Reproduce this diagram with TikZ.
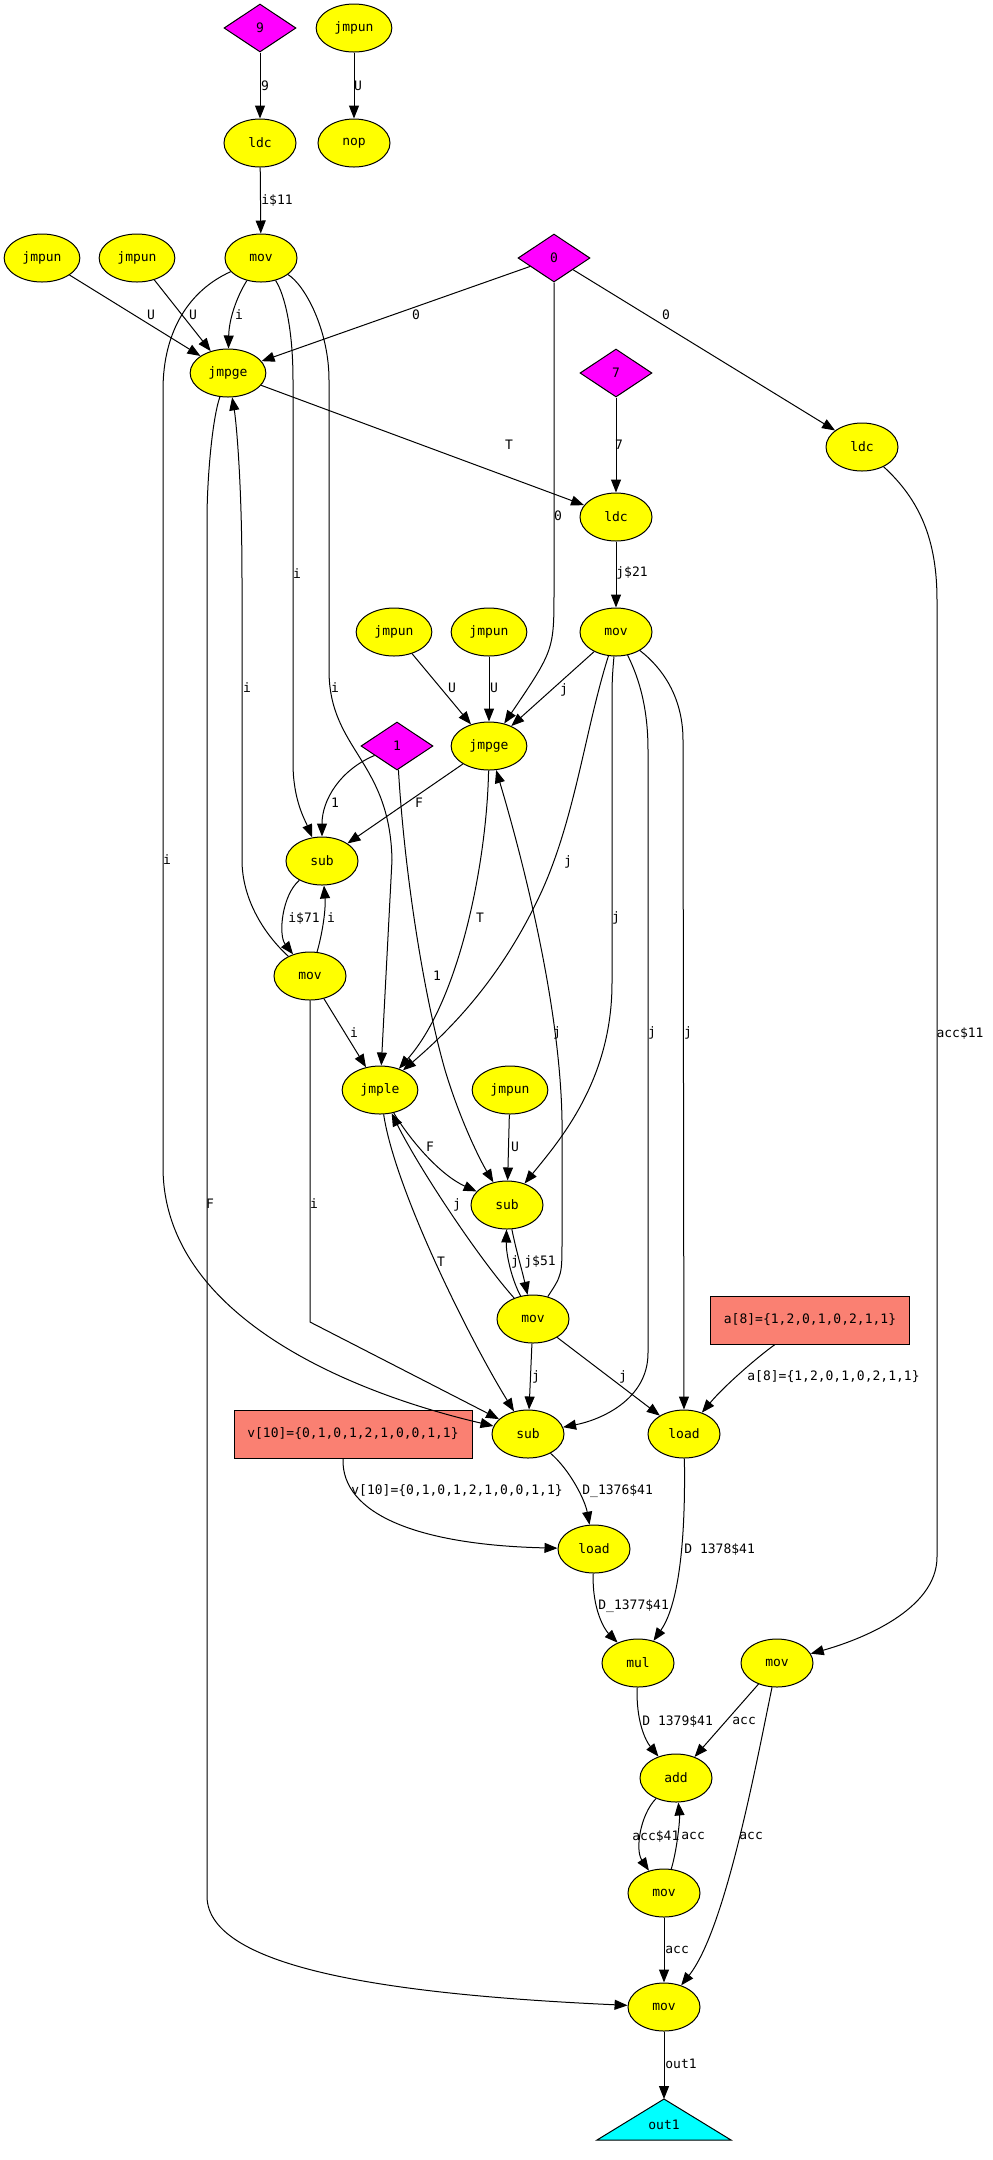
\documentclass[tikz,border=0pt]{standalone}
\usepackage{fontspec}
\setmonofont{DejaVu Sans Mono}
\usepackage{tikz}
\usetikzlibrary{shapes.geometric, arrows.meta}
\usepackage{xcolor}
\definecolor{opYellow}{HTML}{FFFF00}
\definecolor{cstMagenta}{HTML}{FF00FF}
\definecolor{arrSalmon}{HTML}{FA8072}
\definecolor{outCyan}{HTML}{00FFFF}

\begin{document}
\begin{tikzpicture}[x=0.5pt, y=-0.5pt,
    txt/.style={font=\ttfamily\fontsize{6.5}{7}\selectfont},
    op/.style={txt, ellipse, draw, line width=0.5pt, fill=opYellow, minimum width=36pt, minimum height=24pt, inner xsep=3.6pt},
    cst/.style={txt, diamond, draw, line width=0.5pt, fill=cstMagenta, aspect=1.5, inner sep=0pt, minimum width=36pt, minimum height=24pt},
    arr/.style={txt, rectangle, draw, line width=0.5pt, fill=arrSalmon, minimum height=24pt},
    lbl/.style={txt, inner sep=0pt},
    flow/.style={draw, line width=0.5pt, -{Triangle[length=6.5pt, width=5pt]}}
]
    \useasboundingbox (0,0) rectangle (992,2160);

    % Nodes
    \node[cst] (c9) at (260,28) {9};
    \node[op] (jpA) at (354,28) {jmpun};
    \node[op] (ldc9) at (260,143) {ldc};
    \node[op] (nop) at (354,143) {nop};
    \node[op] (jpB) at (42,258) {jmpun};
    \node[op] (jpC) at (137,258) {jmpun};
    \node[op] (movI) at (261,258) {mov};
    \node[cst] (c0) at (554,258) {0};
    \node[op] (jgeI) at (228,373) {jmpge};
    \node[cst] (c7) at (616,373) {7};
    \node[op] (ldc0) at (862,447) {ldc};
    \node[op] (ldc7) at (616,517) {ldc};
    \node[op] (jpD) at (394,632) {jmpun};
    \node[op] (jpE) at (489,632) {jmpun};
    \node[op] (movJ) at (616,632) {mov};
    \node[cst] (c1) at (397,746) {1};
    \node[op] (jgeJ) at (489,746) {jmpge};
    \node[op] (subI) at (322,861) {sub};
    \node[op] (movI2) at (310,976) {mov};
    \node[op] (jle) at (380,1090) {jmple};
    \node[op] (jpF) at (510,1090) {jmpun};
    \node[op] (subJ) at (507,1205) {sub};
    \node[op] (movJ2) at (533,1319) {mov};
    \node[arr, minimum width=99.5pt] (arrA) at (810,1320) {a[8]=\{1,2,0,1,0,2,1,1\}};
    \node[op] (subK) at (528,1434) {sub};
    \node[op] (loadA) at (684,1434) {load};
    \node[arr, minimum width=119pt] (arrV) at (353,1434) {v[10]=\{0,1,0,1,2,1,0,0,1,1\}};
    \node[op] (loadV) at (594,1549) {load};
    \node[op] (mul) at (638,1663) {mul};
    \node[op] (movAcc) at (777,1663) {mov};
    \node[op] (add) at (676,1778) {add};
    \node[op] (movAcc2) at (664,1893) {mov};
    \node[op] (movOut) at (664,2007) {mov};

    % Output
    \coordinate (outTip) at (664,2099);
    \draw[line width=0.5pt, fill=outCyan] (outTip) -- (731,2140) -- (597,2140) -- cycle;
    \node[txt, inner sep=0pt] (out1) at (664,2125) {out1};

    % Edges: i loop
    \draw[flow] (c9) -- (ldc9);
    \draw[flow] (jpA) -- (nop);
    \draw[flow] (ldc9) -- (movI);
    \draw[flow] (jpB) -- (jgeI);
    \draw[flow] (jpC) -- (jgeI);
    \draw[flow] (movI) .. controls (236,298) and (229,320) .. (jgeI);
    \draw[flow] (c0) -- (jgeI);
    \draw[flow] (jgeI) -- (ldc7);
    \draw[flow] (c0) -- (ldc0);
    \draw[flow] (c7) -- (ldc7);
    \draw[flow] (c0.south) -- (554,590) .. controls (554,650) .. (jgeJ);
    \draw[flow] (ldc7) -- (movJ);
    \draw[flow] (movI) .. controls (190,290) and (163,330) .. (163,390) -- (163,1167)
        .. controls (163,1320) and (360,1395) .. (subK);
    \draw[flow] (movI) .. controls (285,295) and (293,330) .. (293,380) -- (293,763)
        .. controls (293,800) and (305,820) .. (subI);
    \draw[flow] (movI) .. controls (305,285) and (329,330) .. (329,380) -- (329,670)
        .. controls (329,750) and (390,760) .. (392,860) -- (jle);
    \draw[flow] (jgeI) .. controls (212,420) and (207,480) .. (207,520) -- (207,1896)
        .. controls (207,1970) and (400,1995) .. (movOut);
    \draw[flow] (movI2) .. controls (265,935) and (242,900) .. (242,860) -- (242,580)
        .. controls (242,480) and (236,420) .. (jgeI);
    \draw[flow] (c1) .. controls (340,770) and (322,800) .. (subI);
    \draw[flow] (jgeJ) -- (subI);
    \draw[flow] (subI) .. controls (282,895) and (278,935) .. (movI2);
    \draw[flow] (movI2) .. controls (322,935) and (326,910) .. (subI);
    \draw[flow] (movI2) -- (jle);
    \draw[flow] (movI2) -- (310,1322) -- (subK);

    % Edges: j loop
    \draw[flow] (jpD) -- (jgeJ);
    \draw[flow] (jpE) -- (jgeJ);
    \draw[flow] (movJ) -- (jgeJ);
    \draw[flow] (jgeJ) .. controls (487,860) and (460,1000) .. (jle);
    \draw[flow] (movJ) .. controls (585,730) and (575,820) .. (540,895)
        .. controls (500,980) and (450,1030) .. (jle);
    \draw[flow] (movJ) .. controls (612,680) .. (612,720) -- (612,983)
        .. controls (612,1080) and (560,1140) .. (subJ);
    \draw[flow] (movJ) .. controls (640,680) and (648,710) .. (648,750) -- (648,1353)
        .. controls (648,1400) and (600,1420) .. (subK);
    \draw[flow] (movJ) .. controls (665,670) and (683,700) .. (683,740) -- (loadA);
    \draw[flow] (c1) .. controls (405,880) and (425,1000) .. (445,1070)
        .. controls (460,1120) and (480,1160) .. (subJ);
    \draw[flow] (jpF) -- (subJ);
    \draw[flow] (jle) .. controls (410,1140) and (440,1175) .. (subJ);
    \draw[flow] (jle) .. controls (395,1190) and (470,1340) .. (subK);
    \draw[flow] (movJ2) .. controls (480,1260) and (420,1170) .. (jle);
    \draw[flow] (subJ) .. controls (516,1250) and (522,1270) .. (movJ2);
    \draw[flow] (movJ2) .. controls (512,1280) and (506,1255) .. (subJ);
    \draw[flow] (movJ2) .. controls (562,1275) .. (562,1240) -- (562,1120)
        .. controls (560,1000) and (520,850) .. (jgeJ);
    \draw[flow] (movJ2) -- (subK);
    \draw[flow] (movJ2) -- (loadA);

    % Edges: body
    \draw[flow] (arrA) .. controls (760,1355) and (725,1385) .. (loadA);
    \draw[flow] (subK) .. controls (570,1470) and (585,1500) .. (loadV);
    \draw[flow] ([xshift=-5pt]arrV.south) .. controls (341,1515) and (420,1545) .. (loadV);
    \draw[flow] (loadA) .. controls (686,1560) and (675,1610) .. (mul);
    \draw[flow] (loadV) .. controls (592,1610) and (605,1630) .. (mul);
    \draw[flow] (ldc0) .. controls (920,500) and (937,540) .. (937,600) -- (937,1557)
        .. controls (937,1610) and (860,1640) .. (movAcc);
    \draw[flow] (mul) .. controls (636,1720) and (645,1740) .. (add);
    \draw[flow] (movAcc) -- (add);
    \draw[flow] (movAcc) .. controls (755,1770) and (725,1930) .. (movOut);
    \draw[flow] (add) .. controls (640,1815) and (635,1850) .. (movAcc2);
    \draw[flow] (movAcc2) .. controls (677,1850) and (680,1820) .. (add);
    \draw[flow] (movAcc2) -- (movOut);
    \draw[flow] (movOut) -- (outTip);

    % Edge labels
    \node[lbl] (l1) at (265,86) {9};
    \node[lbl] (l2) at (358,86) {U};
    \node[lbl] (l3) at (277,201) {i\$11};
    \node[lbl] (l4) at (151,315) {U};
    \node[lbl] (l5) at (193,315) {U};
    \node[lbl] (l6) at (239,315) {i};
    \node[lbl] (l7) at (416,315) {0};
    \node[lbl] (l8) at (666,315) {0};
    \node[lbl] (l9) at (509,445) {T};
    \node[lbl] (l10) at (619,445) {7};
    \node[lbl] (l11) at (558,516) {0};
    \node[lbl] (l12) at (632,573) {j\$21};
    \node[lbl] (l13) at (297,574) {i};
    \node[lbl] (l14) at (452,688) {U};
    \node[lbl] (l15) at (494,688) {U};
    \node[lbl] (l16) at (564,690) {j};
    \node[lbl] (l17) at (247,688) {i};
    \node[lbl] (l18) at (335,688) {i};
    \node[lbl] (l19) at (335,803) {1};
    \node[lbl] (l20) at (419,803) {F};
    \node[lbl] (l21) at (167,860) {i};
    \node[lbl] (l22) at (568,862) {j};
    \node[lbl] (l23) at (304,918) {i\$71};
    \node[lbl] (l24) at (331,918) {i};
    \node[lbl] (l25) at (480,918) {T};
    \node[lbl] (l26) at (616,918) {j};
    \node[lbl] (l27) at (437,976) {1};
    \node[lbl] (l28) at (354,1033) {i};
    \node[lbl] (l29) at (557,1033) {j};
    \node[lbl] (l30) at (652,1033) {j};
    \node[lbl] (l31) at (688,1033) {j};
    \node[lbl] (l32) at (960,1033) {acc\$11};
    \node[lbl] (l33) at (430,1147) {F};
    \node[lbl] (l34) at (515,1147) {U};
    \node[lbl] (l35) at (210,1204) {F};
    \node[lbl] (l36) at (314,1204) {i};
    \node[lbl] (l37) at (457,1205) {j};
    \node[lbl] (l38) at (441,1262) {T};
    \node[lbl] (l39) at (515,1262) {j};
    \node[lbl] (l40) at (540,1262) {j\$51};
    \node[lbl] (l41) at (536,1377) {j};
    \node[lbl] (l42) at (623,1377) {j};
    \node[lbl, anchor=west] (l43) at (747,1377) {a[8]=\{1,2,0,1,0,2,1,1\}};
    \node[lbl, anchor=west] (l44) at (351,1491) {v[10]=\{0,1,0,1,2,1,0,0,1,1\}};
    \node[lbl, anchor=west] (l45) at (582,1491) {D\_1376\$41};
    \node[lbl, anchor=west] (l46) at (684,1549) {D 1378\$41};
    \node[lbl, anchor=west] (l47) at (598,1606) {D\_1377\$41};
    \node[lbl, anchor=west] (l48) at (642,1721) {D 1379\$41};
    \node[lbl, anchor=west] (l49) at (732,1721) {acc};
    \node[lbl, anchor=west] (l50) at (632,1836) {acc\$41};
    \node[lbl, anchor=west] (l51) at (681,1836) {acc};
    \node[lbl, anchor=west] (l52) at (739,1836) {acc};
    \node[lbl, anchor=west] (l53) at (665,1950) {acc};
    \node[lbl, anchor=west] (l54) at (665,2064) {out1};
\end{tikzpicture}
\end{document}
